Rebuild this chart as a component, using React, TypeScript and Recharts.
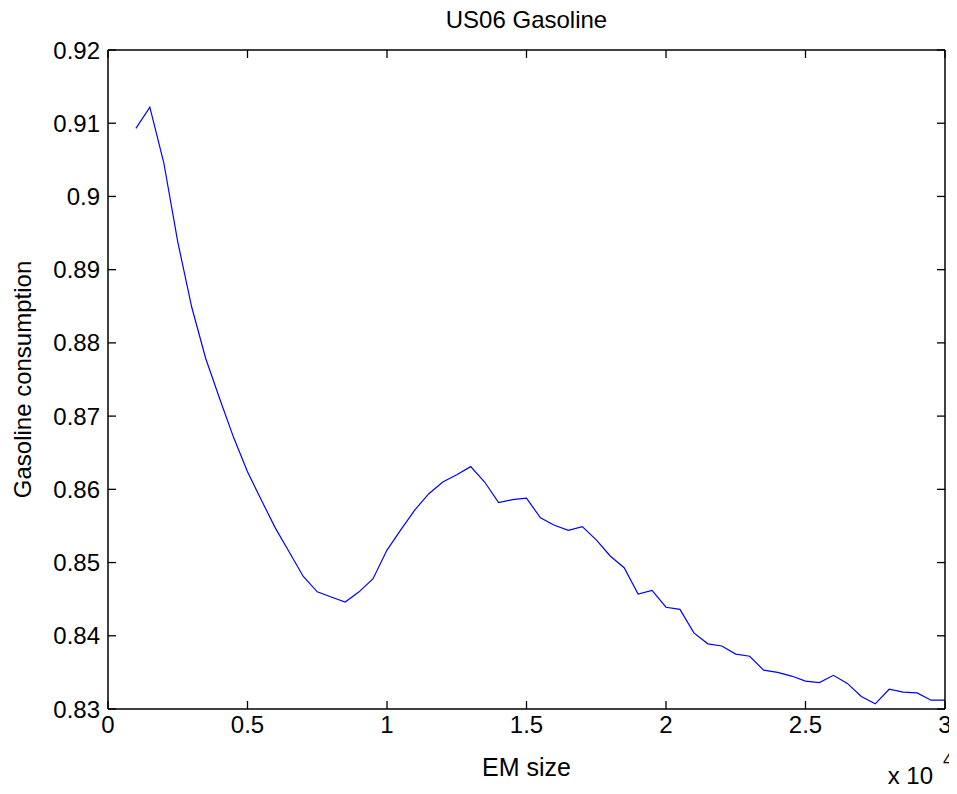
import React from "react";
import { LineChart, Line, XAxis, YAxis, Label } from "recharts";

// EM size (x) and gasoline consumption (y), one sample every 500
const emSize = [
  1000, 1500, 2000, 2500, 3000, 3500, 4000, 4500, 5000, 5500,
  6000, 6500, 7000, 7500, 8000, 8500, 9000, 9500, 10000, 10500,
  11000, 11500, 12000, 12500, 13000, 13500, 14000, 14500, 15000, 15500,
  16000, 16500, 17000, 17500, 18000, 18500, 19000, 19500, 20000, 20500,
  21000, 21500, 22000, 22500, 23000, 23500, 24000, 24500, 25000, 25500,
  26000, 26500, 27000, 27500, 28000, 28500, 29000, 29500, 30000,
];

const consumption = [
  0.9093, 0.9122, 0.9046, 0.8938, 0.8849, 0.8779, 0.8724, 0.8671, 0.8624, 0.8585,
  0.8547, 0.8514, 0.8481, 0.846, 0.8453, 0.8446, 0.846, 0.8478, 0.8517, 0.8545,
  0.8572, 0.8594, 0.861, 0.862, 0.8631, 0.861, 0.8582, 0.8586, 0.8588, 0.8561,
  0.8551, 0.8544, 0.8549, 0.8531, 0.8509, 0.8493, 0.8457, 0.8462, 0.8439, 0.8436,
  0.8404, 0.8389, 0.8386, 0.8375, 0.8372, 0.8353, 0.835, 0.8345, 0.8338, 0.8336,
  0.8346, 0.8335, 0.8317, 0.8307, 0.8327, 0.8323, 0.8322, 0.8312, 0.8312,
];

const xTicks = [0, 5000, 10000, 15000, 20000, 25000, 30000];
const yTicks = [0.83, 0.84, 0.85, 0.86, 0.87, 0.88, 0.89, 0.9, 0.91, 0.92];

const data = emSize.map((x, i) => ({ x, y: consumption[i] }));

// the chart covers the whole page; negative margins cancel the body margin
const W = 957;
const H = 794;
const FONT = "'Liberation Sans', Arial, Helvetica, sans-serif";
const TICK_FONT = 24;
const TICK_LEN = 8;
const X_GAP = 7;
const Y_GAP = 8;

const fmtX = (v: number) => String(v / 10000);
const fmtY = (v: number) => String(Number(v.toFixed(2)));

// matlab-style ticks: marks point into the plot box
const BottomTick = (p: any) => (
  <g>
    <line x1={p.x} x2={p.x} y1={p.y - X_GAP} y2={p.y - X_GAP - TICK_LEN} stroke="#000" strokeWidth={1.3} />
    <text x={p.x} y={p.y} dy="0.71em" textAnchor="middle" fontSize={TICK_FONT} fontFamily={FONT} fill="#000">
      {fmtX(p.payload.value)}
    </text>
  </g>
);

const TopTick = (p: any) => (
  <line x1={p.x} x2={p.x} y1={p.y} y2={p.y + TICK_LEN} stroke="#000" strokeWidth={1.3} />
);

const LeftTick = (p: any) => (
  <g>
    <line x1={p.x + Y_GAP} x2={p.x + Y_GAP + TICK_LEN} y1={p.y} y2={p.y} stroke="#000" strokeWidth={1.3} />
    <text x={p.x} y={p.y} dy="0.355em" textAnchor="end" fontSize={TICK_FONT} fontFamily={FONT} fill="#000">
      {fmtY(p.payload.value)}
    </text>
  </g>
);

const RightTick = (p: any) => (
  <line x1={p.x} x2={p.x - TICK_LEN} y1={p.y} y2={p.y} stroke="#000" strokeWidth={1.3} />
);

const axisLine = { stroke: "#000", strokeWidth: 1.5 };

export default function App() {
  return (
    <div style={{ width: W, height: H, margin: "-8px 0 -8px -8px" }}>
      <LineChart width={W} height={H} data={data} margin={{ top: 49, right: 11, bottom: 0, left: 0 }}>
        <XAxis
          xAxisId="b"
          dataKey="x"
          type="number"
          domain={[0, 30000]}
          ticks={xTicks}
          height={85}
          tickSize={0}
          tickMargin={X_GAP}
          tick={BottomTick}
          axisLine={axisLine}
          interval={0}
        >
          <Label
            content={({ viewBox }: any) => (
              <g fontFamily={FONT} fill="#000">
                <text x={viewBox.x + viewBox.width / 2} y={776} textAnchor="middle" fontSize={25}>
                  EM size
                </text>
                <text x={viewBox.x + viewBox.width - 12} y={784} textAnchor="end" fontSize={24}>
                  x 10
                </text>
                <text x={viewBox.x + viewBox.width - 2} y={766} textAnchor="start" fontSize={18}>
                  4
                </text>
              </g>
            )}
          />
        </XAxis>
        <XAxis
          xAxisId="t"
          dataKey="x"
          orientation="top"
          type="number"
          domain={[0, 30000]}
          ticks={xTicks}
          height={1}
          tickSize={0}
          tickMargin={0}
          tick={TopTick}
          axisLine={axisLine}
          interval={0}
        >
          <Label
            content={({ viewBox }: any) => (
              <text
                x={viewBox.x + viewBox.width / 2}
                y={28}
                textAnchor="middle"
                fontSize={24}
                fontFamily={FONT}
                fill="#000"
              >
                US06 Gasoline
              </text>
            )}
          />
        </XAxis>
        <YAxis
          yAxisId="l"
          type="number"
          domain={[0.83, 0.92]}
          ticks={yTicks}
          width={108}
          tickSize={0}
          tickMargin={Y_GAP}
          tick={LeftTick}
          axisLine={axisLine}
          interval={0}
        >
          <Label
            content={({ viewBox }: any) => {
              const cx = 22;
              const cy = viewBox.y + viewBox.height / 2;
              return (
                <text
                  x={cx}
                  y={cy}
                  transform={`rotate(-90 ${cx} ${cy})`}
                  textAnchor="middle"
                  dominantBaseline="central"
                  fontSize={24}
                  fontFamily={FONT}
                  fill="#000"
                >
                  Gasoline consumption
                </text>
              );
            }}
          />
        </YAxis>
        <YAxis
          yAxisId="r"
          orientation="right"
          type="number"
          domain={[0.83, 0.92]}
          ticks={yTicks}
          width={1}
          tickSize={0}
          tickMargin={0}
          tick={RightTick}
          axisLine={axisLine}
          interval={0}
        />
        {/* invisible series so the top and right frame axes are laid out */}
        <Line
          xAxisId="t"
          yAxisId="r"
          type="linear"
          dataKey="y"
          stroke="none"
          dot={false}
          activeDot={false}
          isAnimationActive={false}
        />
        <Line
          xAxisId="b"
          yAxisId="l"
          type="linear"
          dataKey="y"
          stroke="#0000ff"
          strokeWidth={1.2}
          dot={false}
          isAnimationActive={false}
        />
      </LineChart>
    </div>
  );
}
